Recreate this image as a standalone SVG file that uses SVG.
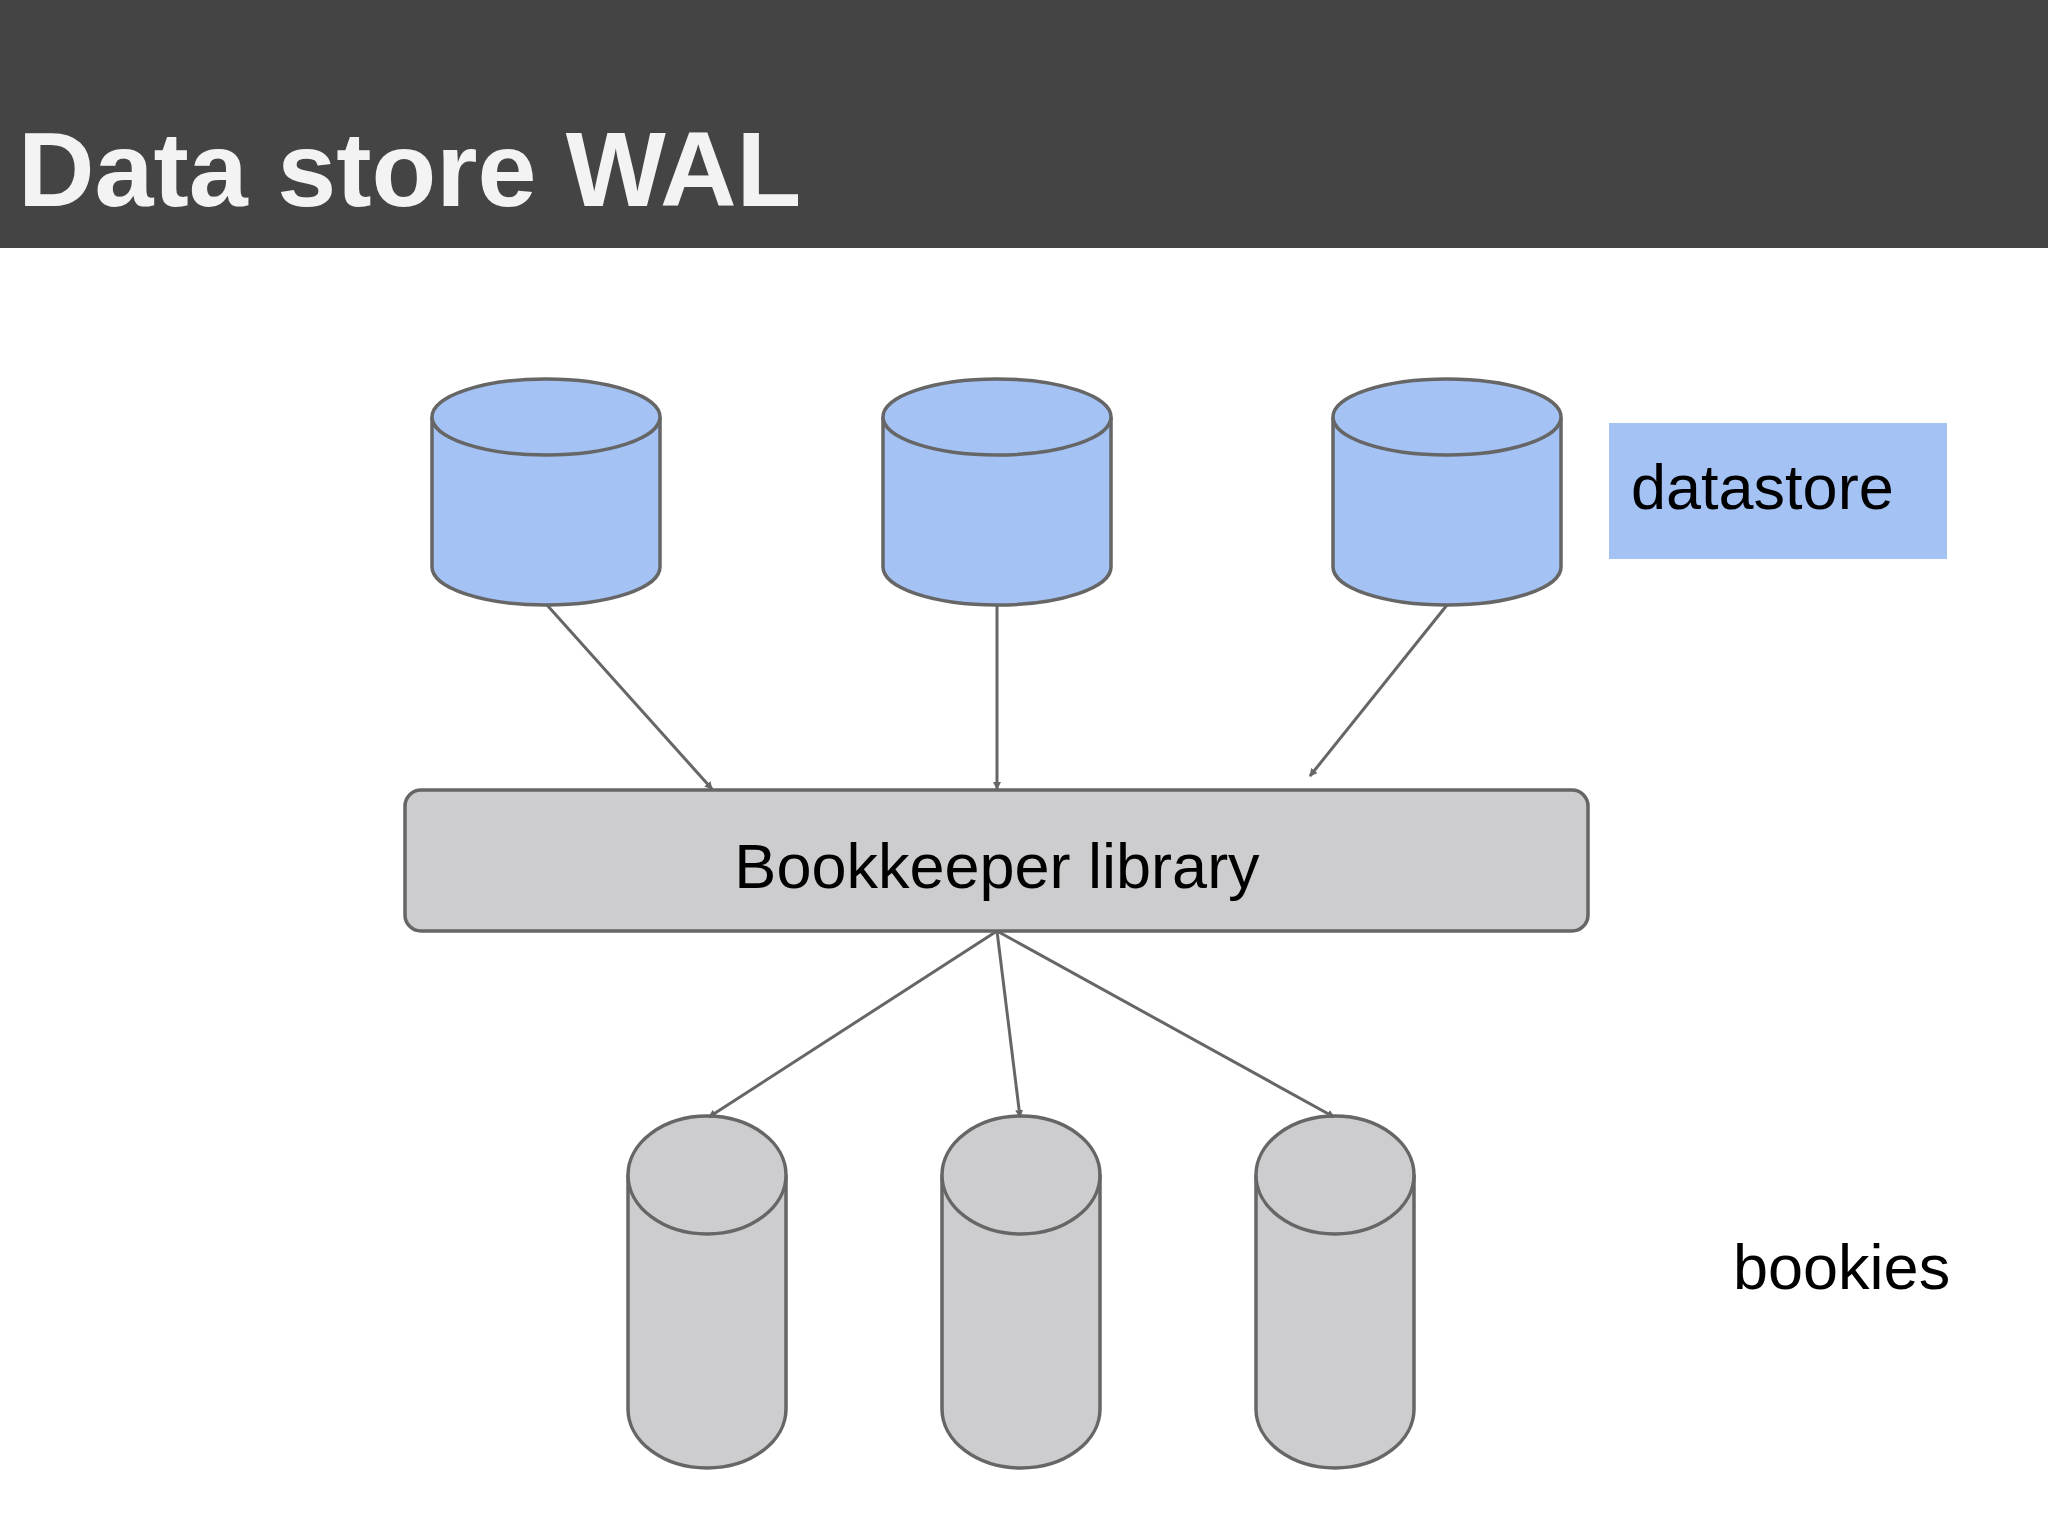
<svg xmlns="http://www.w3.org/2000/svg" width="2048" height="1536" viewBox="0 0 2048 1536">
<defs>
<marker id="ah" markerWidth="8" markerHeight="8" refX="7" refY="4" orient="auto" markerUnits="userSpaceOnUse" viewBox="0 0 8 8"><path d="M0,0 L8,4 L0,8 z" fill="#666"/></marker>
<style>
.s{stroke:#666;stroke-width:3.5}
.b{fill:#a4c2f4}
.g{fill:#cdcdd0}
.t{font-family:"Liberation Sans",Arial,sans-serif;fill:#000}
.c{stroke:#666;stroke-width:3;fill:none;marker-end:url(#ah)}
</style>
</defs>
<rect width="2048" height="1536" fill="#fff"/>
<rect width="2048" height="248" fill="#444"/>
<text x="18" y="206" font-size="106" font-weight="bold" class="t" style="fill:#f3f3f3">Data store WAL</text>
<g id="ds1"><path class="s b" d="M432,417 V567 A114,38 0 0 0 660,567 V417"/><ellipse class="s b" cx="546" cy="417" rx="114" ry="38"/></g>
<g id="ds2"><path class="s b" d="M883,417 V567 A114,38 0 0 0 1111,567 V417"/><ellipse class="s b" cx="997" cy="417" rx="114" ry="38"/></g>
<g id="ds3"><path class="s b" d="M1333,417 V567 A114,38 0 0 0 1561,567 V417"/><ellipse class="s b" cx="1447" cy="417" rx="114" ry="38"/></g>
<g id="datastore"><rect x="1609" y="423" width="338" height="136" fill="#a4c2f4"/><text x="1631" y="509" font-size="63" class="t">datastore</text></g>
<g id="bk"><rect class="s g" x="405" y="790" width="1183" height="141" rx="16"/><text x="997" y="888" font-size="63" text-anchor="middle" class="t">Bookkeeper library</text></g>
<g id="b1"><path class="s g" d="M628,1175 V1409 A79,59 0 0 0 786,1409 V1175"/><ellipse class="s g" cx="707" cy="1175" rx="79" ry="59"/></g>
<g id="b2"><path class="s g" d="M942,1175 V1409 A79,59 0 0 0 1100,1409 V1175"/><ellipse class="s g" cx="1021" cy="1175" rx="79" ry="59"/></g>
<g id="b3"><path class="s g" d="M1256,1175 V1409 A79,59 0 0 0 1414,1409 V1175"/><ellipse class="s g" cx="1335" cy="1175" rx="79" ry="59"/></g>
<g id="bookies"><text x="1733" y="1289" font-size="63" class="t">bookies</text></g>
<g id="connectors">
<line class="c" x1="547" y1="605" x2="712" y2="789"/>
<line class="c" x1="997" y1="605" x2="997" y2="789"/>
<line class="c" x1="1447" y1="605" x2="1310" y2="776"/>
<line class="c" x1="997" y1="931" x2="709" y2="1117"/>
<line class="c" x1="997" y1="931" x2="1020" y2="1117"/>
<line class="c" x1="997" y1="931" x2="1334" y2="1117"/>
</g>
</svg>
